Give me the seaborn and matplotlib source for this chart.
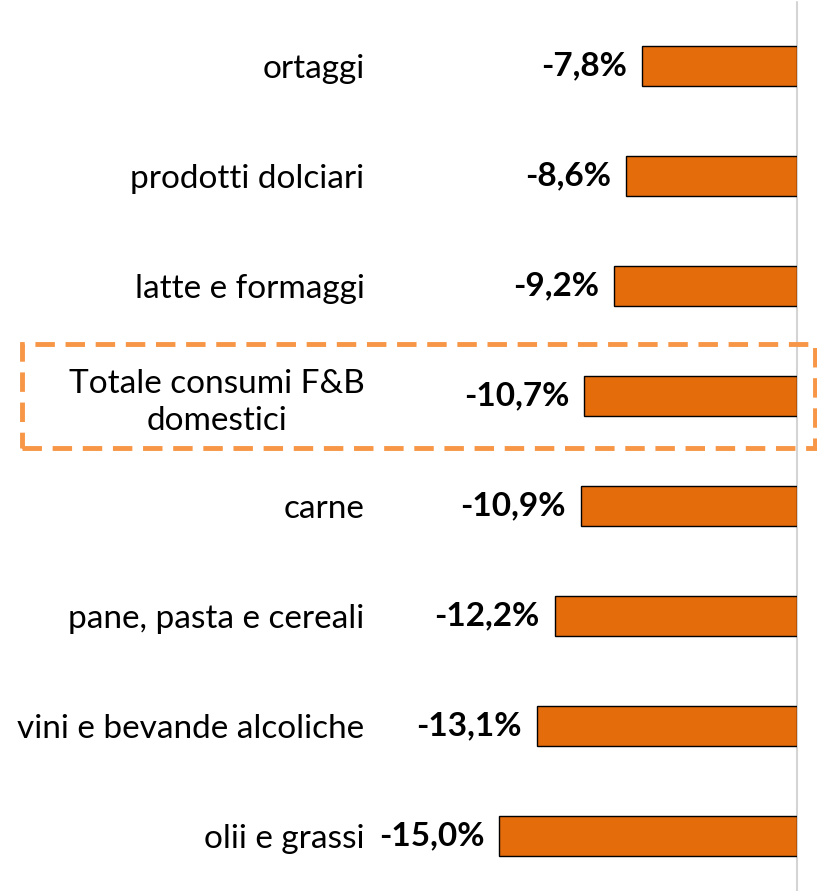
import matplotlib
matplotlib.use("Agg")
import matplotlib.pyplot as plt
import matplotlib.transforms as mtransforms
from matplotlib.patches import Rectangle
import seaborn as sns

categories = ["ortaggi", "prodotti dolciari", "latte e formaggi",
              "Totale consumi F&B\ndomestici", "carne", "pane, pasta e cereali",
              "vini e bevande alcoliche", "olii e grassi"]
values = [-7.8, -8.6, -9.2, -10.7, -10.9, -12.2, -13.1, -15.0]
highlight = 3

sns.set_style("white")
plt.rcParams["font.family"] = ["Lato", "DejaVu Sans"]

fig = plt.figure(figsize=(8.17, 8.91), dpi=100)
ax = fig.add_axes([370 / 817, 0.0, (797 - 370) / 817, 880 / 891])

sns.barplot(x=values, y=categories, orient="h", color="#E46C0A", saturation=1,
            edgecolor="black", linewidth=1, width=0.37, ax=ax)

ax.set_xlim(-21.5, 0)
ax.set_ylim(7.5, -0.5)
ax.axvline(0, color="#d4d4d4", lw=1.5, zorder=0, ymin=0, ymax=1.01, clip_on=False)

for i, v in enumerate(values):
    ax.text(v - 0.75, i, f"{v:.1f}".replace(".", ",") + "%", ha="right", va="center",
            fontsize=24, fontweight="bold", color="black")

ax.set_xticks([])
ax.set_xlabel("")
ax.set_ylabel("")
ax.tick_params(axis="y", length=0, pad=4, labelsize=24, labelcolor="black")
for lab in ax.get_yticklabels():
    lab.set_multialignment("center")
    lab.set_linespacing(1.3)
for s in ax.spines.values():
    s.set_visible(False)

# dashed box around the total row
trans = mtransforms.blended_transform_factory(fig.transFigure, ax.transData)
box = Rectangle((22 / 817, highlight + 0.47), (815 - 22) / 817, -0.94, transform=trans,
                fill=False, edgecolor="#F79646", lw=3.5, linestyle=(0, (4, 2.2)),
                clip_on=False)
fig.patches.append(box)

fig.savefig("out.png", dpi=100)
